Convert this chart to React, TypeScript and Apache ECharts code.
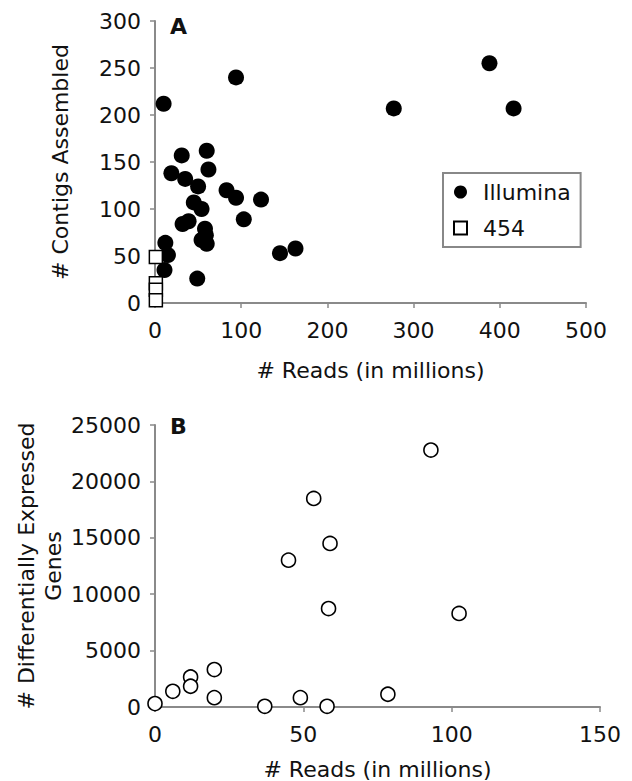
import React, { useEffect, useRef } from "react";
import * as echarts from "echarts";

// Panel A: # Reads (millions) vs # Contigs Assembled
const illuminaA: [number, number][] = [
  [10, 212], [94, 240], [31, 157], [60, 162], [19, 138], [35, 132], [62, 142],
  [50, 124], [83, 120], [94, 112], [123, 110], [45, 107], [54, 100], [103, 89],
  [32, 84], [39, 87], [58, 79], [59, 72], [54, 67], [60, 63], [145, 53],
  [163, 58], [12, 64], [15, 51], [11, 35], [49, 26], [388, 255], [277, 207],
  [416, 207],
];
const roche454A: [number, number][] = [[1, 49], [1, 21], [1, 14], [1, 3]];

// Panel B: # Reads (millions) vs # Differentially Expressed Genes
const degB: [number, number][] = [
  [0, 300], [6, 1390], [12, 2660], [12, 1840], [20, 3320], [20, 830], [37, 60],
  [49, 830], [45, 13020], [53.5, 18490], [59, 14500], [58.5, 8730],
  [102.5, 8290], [93, 22780], [78.5, 1130], [58, 60],
];

const xTitle = "# Reads (in millions)";
const yTitleA = "# Contigs Assembled";
const yTitleB = "# Differentially Expressed\nGenes";
const legendNames = ["Illumina", "454"];

const FONT = "DejaVu Sans";
const TEXT = "#111";
const AXIS = "#8a8a8a";

function axisBase() {
  return {
    type: "value" as const,
    splitLine: { show: false },
    axisLine: { show: true, lineStyle: { color: AXIS, width: 2 } },
    axisTick: { show: true, inside: false, length: 5, lineStyle: { color: AXIS, width: 1.5 } },
    nameTextStyle: { fontFamily: FONT, fontSize: 22, color: TEXT },
    nameMoveOverlap: false,
  };
}

export default function App() {
  const ref = useRef<HTMLDivElement>(null);
  useEffect(() => {
    if (!ref.current) return;
    const chart = echarts.init(ref.current, undefined, { renderer: "svg" });
    const labelStyle = { fontFamily: FONT, fontSize: 22, color: TEXT, formatter: (v: number) => String(v) };
    chart.setOption({
      animation: false,
      backgroundColor: "#fff",
      textStyle: { fontFamily: FONT },
      grid: [
        { left: 155, top: 21, width: 431, height: 282, outerBoundsMode: "none", containLabel: false },
        { left: 155, top: 425, width: 445, height: 282, outerBoundsMode: "none", containLabel: false },
      ],
      xAxis: [
        {
          ...axisBase(), gridIndex: 0, min: 0, max: 500, interval: 100,
          axisLabel: { ...labelStyle, margin: 16 },
          name: xTitle, nameLocation: "middle", nameGap: 56,
        },
        {
          ...axisBase(), gridIndex: 1, min: 0, max: 150, interval: 50,
          axisLabel: { ...labelStyle, margin: 16 },
          name: xTitle, nameLocation: "middle", nameGap: 51,
        },
      ],
      yAxis: [
        {
          ...axisBase(), gridIndex: 0, min: 0, max: 300, interval: 50,
          axisLabel: { ...labelStyle, margin: 14 },
          name: yTitleA, nameLocation: "middle", nameGap: 84,
        },
        {
          ...axisBase(), gridIndex: 1, min: 0, max: 25000, interval: 5000,
          axisLabel: { ...labelStyle, margin: 14 },
          name: yTitleB, nameLocation: "middle", nameGap: 88,
          nameTextStyle: { fontFamily: FONT, fontSize: 22, color: TEXT, lineHeight: 27 },
        },
      ],
      legend: {
        data: legendNames,
        orient: "vertical",
        left: 443,
        top: 173,
        padding: [8, 10, 8, 10],
        itemWidth: 13,
        itemHeight: 13,
        itemGap: 14,
        borderColor: "#888",
        borderWidth: 2,
        textStyle: { fontFamily: FONT, fontSize: 22, color: TEXT, padding: [0, 0, 0, 11] },
      },
      graphic: [
        { type: "text", left: 170, top: 15, style: { text: "A", fontFamily: FONT, fontWeight: "bold", fontSize: 22, fill: TEXT } },
        { type: "text", left: 170, top: 415, style: { text: "B", fontFamily: FONT, fontWeight: "bold", fontSize: 22, fill: TEXT } },
      ],
      series: [
        {
          name: legendNames[0], type: "scatter", xAxisIndex: 0, yAxisIndex: 0,
          data: illuminaA, symbol: "circle", symbolSize: 16, clip: false,
          itemStyle: { color: "#000", opacity: 1 },
        },
        {
          name: legendNames[1], type: "scatter", xAxisIndex: 0, yAxisIndex: 0,
          data: roche454A, symbol: "rect", symbolSize: 13, clip: false,
          itemStyle: { color: "#fff", borderColor: "#000", borderWidth: 1.5, opacity: 1 },
        },
        {
          name: "DEG", type: "scatter", xAxisIndex: 1, yAxisIndex: 1,
          data: degB, symbol: "circle", symbolSize: 14, clip: false,
          itemStyle: { color: "#fff", borderColor: "#000", borderWidth: 1.6, opacity: 1 },
        },
      ],
    });
    return () => chart.dispose();
  }, []);
  return (
    <div
      ref={ref}
      style={{ position: "absolute", left: 0, top: 0, width: 632, height: 781 }}
    />
  );
}
